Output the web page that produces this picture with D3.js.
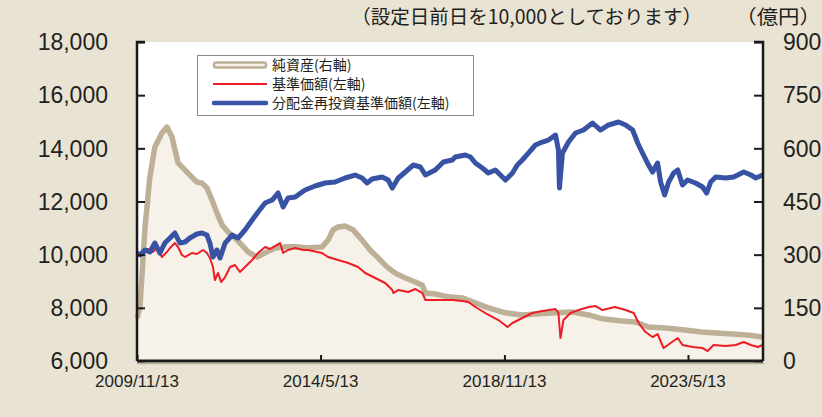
<!DOCTYPE html>
<html>
<head>
<meta charset="utf-8">
<script src="https://cdn.jsdelivr.net/npm/d3@7"></script>
<style>
  html, body { margin: 0; padding: 0; background: #e9e3d3; }
  svg { display: block; }
</style>
</head>
<body>
<svg width="822" height="417"></svg>
<script>
// 純資産 (億円, 右軸)
const navDates = ["2009-11-13","2009-12-10","2010-01-24","2010-03-08","2010-04-22","2010-06-24","2010-08-08","2010-09-22","2010-11-15","2010-12-29","2011-03-19","2011-05-03","2011-06-17","2011-08-01","2011-09-15","2011-10-29","2011-12-14","2012-02-06","2012-04-08","2012-06-09","2012-08-02","2012-10-22","2013-01-02","2013-04-01","2013-06-30","2013-10-24","2014-01-23","2014-05-26","2014-07-19","2014-09-02","2014-10-17","2014-12-19","2015-02-28","2015-05-20","2015-07-30","2015-10-10","2015-12-30","2016-03-11","2016-06-09","2016-09-07","2016-11-09","2016-12-06","2017-03-04","2017-06-28","2017-11-02","2018-01-31","2018-06-22","2018-11-22","2019-04-22","2019-09-13","2020-02-13","2020-07-14","2020-12-05","2021-04-08","2021-10-05","2022-01-30","2022-05-25","2022-10-25","2023-03-25","2023-09-13","2024-01-16","2024-06-16","2024-11-07","2025-03-11"];
const navValues = [120,155,378,519,604,643,660,632,559,545,519,505,502,488,454,418,384,364,347,327,308,293,305,319,322,322,319,322,341,370,378,381,370,341,313,291,265,248,234,223,214,192,189,181,178,167,150,136,130,133,136,138,130,119,113,110,96,93,88,82,79,76,73,68];

// 基準価額 (円, 左軸)
const priceDates = ["2009-11-13","2009-12-27","2010-02-20","2010-04-04","2010-05-10","2010-06-24","2010-08-08","2010-09-04","2010-10-18","2010-11-15","2010-12-20","2011-01-17","2011-03-19","2011-05-03","2011-06-26","2011-08-01","2011-08-27","2011-09-24","2011-10-11","2011-11-08","2011-12-05","2012-01-10","2012-02-24","2012-04-08","2012-05-22","2012-07-06","2012-09-08","2012-10-31","2013-01-02","2013-02-16","2013-04-01","2013-05-16","2013-06-12","2013-07-26","2013-09-28","2013-12-09","2014-01-23","2014-05-26","2014-07-19","2014-10-17","2015-01-16","2015-04-14","2015-06-16","2015-09-14","2015-12-12","2016-02-14","2016-02-23","2016-04-07","2016-07-05","2016-09-07","2016-11-09","2016-12-06","2017-04-01","2017-08-04","2017-11-02","2017-12-25","2018-02-26","2018-05-26","2018-09-20","2018-12-10","2019-01-24","2019-04-22","2019-07-21","2019-10-18","2020-02-13","2020-03-10","2020-03-28","2020-04-24","2020-06-26","2020-09-06","2020-12-05","2021-02-06","2021-04-08","2021-07-29","2021-11-01","2022-01-12","2022-02-26","2022-04-28","2022-06-30","2022-08-14","2022-10-07","2022-12-09","2023-02-10","2023-03-25","2023-06-23","2023-09-21","2023-11-05","2023-12-28","2024-04-14","2024-07-13","2024-09-23","2024-11-25","2025-01-27","2025-03-11"];
const priceValues = [10000,10100,10213,10100,10250,9912,10100,10250,10438,10288,9987,9912,10062,10025,10175,10062,9874,9535,9046,9310,8971,9159,9535,9611,9347,9535,9799,10062,10288,10213,10325,10438,10062,10175,10250,10175,10175,10062,9912,9799,9686,9535,9310,9122,8934,8670,8557,8670,8595,8708,8557,8294,8294,8294,8256,8219,8031,7805,7542,7278,7429,7617,7805,7880,7956,7805,6864,7542,7805,7918,8031,8068,7918,8031,7918,7805,7429,7090,6902,7015,6488,6676,6864,6601,6526,6488,6375,6601,6564,6601,6714,6601,6526,6601];

// 分配金再投資基準価額 (円, 左軸)
const reinvDates = ["2009-11-13","2009-12-10","2010-01-24","2010-03-08","2010-04-22","2010-06-06","2010-07-20","2010-09-04","2010-10-18","2010-12-02","2011-01-17","2011-03-01","2011-05-03","2011-06-17","2011-08-01","2011-08-27","2011-09-24","2011-10-29","2011-11-26","2012-01-10","2012-03-12","2012-05-05","2012-07-06","2012-09-08","2012-10-31","2013-01-02","2013-03-06","2013-04-28","2013-06-12","2013-07-26","2013-09-28","2013-11-30","2013-12-26","2014-03-25","2014-06-22","2014-09-20","2014-12-19","2015-03-18","2015-05-20","2015-07-03","2015-08-17","2015-11-15","2016-01-08","2016-02-14","2016-04-07","2016-06-09","2016-08-20","2016-10-22","2016-12-06","2017-03-04","2017-05-15","2017-08-04","2017-08-30","2017-11-28","2018-01-13","2018-02-26","2018-04-29","2018-06-22","2018-08-24","2018-10-08","2018-11-22","2019-01-24","2019-03-08","2019-04-22","2019-06-15","2019-08-17","2019-10-18","2019-12-12","2020-02-13","2020-03-10","2020-03-19","2020-04-15","2020-06-08","2020-08-10","2020-10-20","2021-01-09","2021-03-21","2021-06-01","2021-08-30","2021-11-01","2022-01-03","2022-02-17","2022-04-01","2022-05-25","2022-06-30","2022-08-14","2022-09-10","2022-10-16","2022-11-21","2023-01-05","2023-02-10","2023-03-25","2023-05-09","2023-07-19","2023-09-21","2023-10-27","2023-12-02","2024-01-16","2024-04-14","2024-06-25","2024-09-23","2024-11-25","2025-01-09","2025-03-11"];
const reinvValues = [10062,9987,10175,10100,10438,10062,10438,10626,10815,10438,10476,10626,10777,10815,10739,10438,9912,10175,9874,10438,10739,10626,10928,11304,11605,11943,12056,12319,11793,12131,12169,12357,12432,12583,12696,12733,12884,12996,12884,12696,12846,12921,12808,12507,12884,13109,13373,13298,12996,13185,13486,13561,13674,13749,13674,13448,13260,13072,13185,12996,12808,13072,13373,13561,13824,14125,14238,14313,14501,13937,12507,13824,14238,14577,14689,14953,14689,14878,14990,14878,14689,14200,13824,13373,13109,13448,12733,12244,12733,13072,13185,12620,12808,12696,12545,12319,12733,12921,12884,12921,13109,12996,12884,12996];

const leftTicks = [6000, 8000, 10000, 12000, 14000, 16000, 18000];
const rightTicks = [0, 150, 300, 450, 600, 750, 900];
const xTickDates = ["2009-11-13", "2014-05-13", "2018-11-13", "2023-05-13"];
const xTickLabels = ["2009/11/13", "2014/5/13", "2018/11/13", "2023/5/13"];
const legendLabels = ["純資産(右軸)", "基準価額(左軸)", "分配金再投資基準価額(左軸)"];
const noteText = "（設定日前日を10,000としております）";
const unitText = "（億円）";

const parse = d3.timeParse("%Y-%m-%d");
const zip = (ds, vs) => ds.map((d, i) => ({ date: parse(d), value: vs[i] }));
const nav = zip(navDates, navValues);
const price = zip(priceDates, priceValues);
const reinv = zip(reinvDates, reinvValues);

const plotL = 137, plotR = 763, plotT = 42, plotB = 361;
const svg = d3.select("svg");

const x = d3.scaleTime()
    .domain([parse("2009-11-13"), parse("2025-03-14")])
    .range([plotL, plotR]);
const yL = d3.scaleLinear().domain([6000, 18000]).range([plotB, plotT]);
const yR = d3.scaleLinear().domain([0, 900]).range([plotB, plotT]);

const numFont = "'Liberation Sans', Arial, sans-serif";
const jpFont = "'Noto Sans CJK JP', sans-serif";

// plot area
svg.append("rect")
    .attr("x", plotL).attr("y", plotT)
    .attr("width", plotR - plotL).attr("height", plotB - plotT)
    .attr("fill", "#ffffff");

// net assets area + line
svg.append("path")
    .datum(nav)
    .attr("d", d3.area().x(d => x(d.date)).y0(yR(0)).y1(d => yR(d.value)))
    .attr("fill", "#f6f2ea");
svg.append("path")
    .datum(nav)
    .attr("d", d3.line().x(d => x(d.date)).y(d => yR(d.value)))
    .attr("fill", "none")
    .attr("stroke", "#bdb097")
    .attr("stroke-width", 5.5)
    .attr("stroke-linejoin", "round");

// price lines
svg.append("path")
    .datum(price)
    .attr("d", d3.line().x(d => x(d.date)).y(d => yL(d.value)))
    .attr("fill", "none")
    .attr("stroke", "#ee1d25")
    .attr("stroke-width", 2)
    .attr("stroke-linejoin", "round");
svg.append("path")
    .datum(reinv)
    .attr("d", d3.line().x(d => x(d.date)).y(d => yL(d.value)))
    .attr("fill", "none")
    .attr("stroke", "#3953a4")
    .attr("stroke-width", 5)
    .attr("stroke-linejoin", "round");

// axes
const axisL = svg.append("g").attr("transform", `translate(${plotL},0)`)
    .call(d3.axisRight(yL).tickValues(leftTicks).tickSize(8).tickFormat(""));
const axisR = svg.append("g").attr("transform", `translate(${plotR},0)`)
    .call(d3.axisLeft(yR).tickValues(rightTicks).tickSize(9).tickFormat(""));
const axisB = svg.append("g").attr("transform", `translate(0,${plotB})`)
    .call(d3.axisTop(x).tickValues(xTickDates.map(parse)).tickSize(6).tickFormat(""));
[axisL, axisR, axisB].forEach(g => {
    g.selectAll("path").attr("stroke", "#1a1a1a").attr("stroke-width", 2.5);
    g.selectAll("line").attr("stroke", "#1a1a1a").attr("stroke-width", 2);
});
axisL.select(".domain").attr("d", `M8,${plotT}H0V${plotB}`);
axisR.select(".domain").attr("d", `M-9,${plotT}H0V${plotB}`);
axisB.select(".domain").attr("d", `M${plotL},0H${plotR}`).attr("stroke-width", 3);
svg.append("line")
    .attr("x1", plotL).attr("x2", plotR + 1)
    .attr("y1", plotB + 2.5).attr("y2", plotB + 2.5)
    .attr("stroke", "#b9b09c").attr("stroke-width", 1.5);

// tick labels
svg.append("g").selectAll("text").data(leftTicks).join("text")
    .attr("x", 108).attr("y", d => yL(d))
    .attr("dy", "0.36em")
    .attr("text-anchor", "end")
    .attr("font-family", numFont).attr("font-size", 23)
    .attr("fill", "#231f20")
    .text(d => d3.format(",")(d));
svg.append("g").selectAll("text").data(rightTicks).join("text")
    .attr("x", 783).attr("y", d => yR(d))
    .attr("dy", "0.36em")
    .attr("font-family", numFont).attr("font-size", 23)
    .attr("fill", "#231f20")
    .text(d => d);
svg.append("g").selectAll("text").data(xTickDates).join("text")
    .attr("x", d => x(parse(d))).attr("y", 387)
    .attr("text-anchor", "middle")
    .attr("font-family", numFont).attr("font-size", 17)
    .attr("fill", "#231f20")
    .text((d, i) => xTickLabels[i]);

// header notes
svg.append("text")
    .attr("transform", "translate(702,24)")
    .attr("text-anchor", "end")
    .attr("font-family", jpFont).attr("font-size", 19.5)
    .attr("fill", "#231f20")
    .text(noteText);
svg.append("text")
    .attr("transform", "translate(821,24) scale(1.1,1)")
    .attr("text-anchor", "end")
    .attr("font-family", jpFont).attr("font-size", 19.5)
    .attr("fill", "#231f20")
    .text(unitText);

// legend
const lg = svg.append("g");
lg.append("rect")
    .attr("x", 197.5).attr("y", 55.5).attr("width", 276).attr("height", 60)
    .attr("fill", "#ffffff").attr("stroke", "#8a8a8a").attr("stroke-width", 1);
const rowY = [65, 84, 103];
lg.append("rect")
    .attr("x", 214).attr("y", rowY[0] - 2.5).attr("width", 52).attr("height", 5)
    .attr("rx", 2)
    .attr("fill", "#f6f2ea").attr("stroke", "#bdb097").attr("stroke-width", 2.5);
lg.append("line")
    .attr("x1", 213).attr("x2", 267).attr("y1", rowY[1]).attr("y2", rowY[1])
    .attr("stroke", "#ee1d25").attr("stroke-width", 2);
lg.append("line")
    .attr("x1", 214).attr("x2", 266).attr("y1", rowY[2]).attr("y2", rowY[2])
    .attr("stroke", "#3953a4").attr("stroke-width", 4.5).attr("stroke-linecap", "round");
lg.selectAll("text").data(legendLabels).join("text")
    .attr("x", 272).attr("y", (d, i) => rowY[i])
    .attr("dy", "0.36em")
    .attr("font-family", jpFont).attr("font-size", 14)
    .attr("fill", "#231f20")
    .text(d => d);
</script>
</body>
</html>
